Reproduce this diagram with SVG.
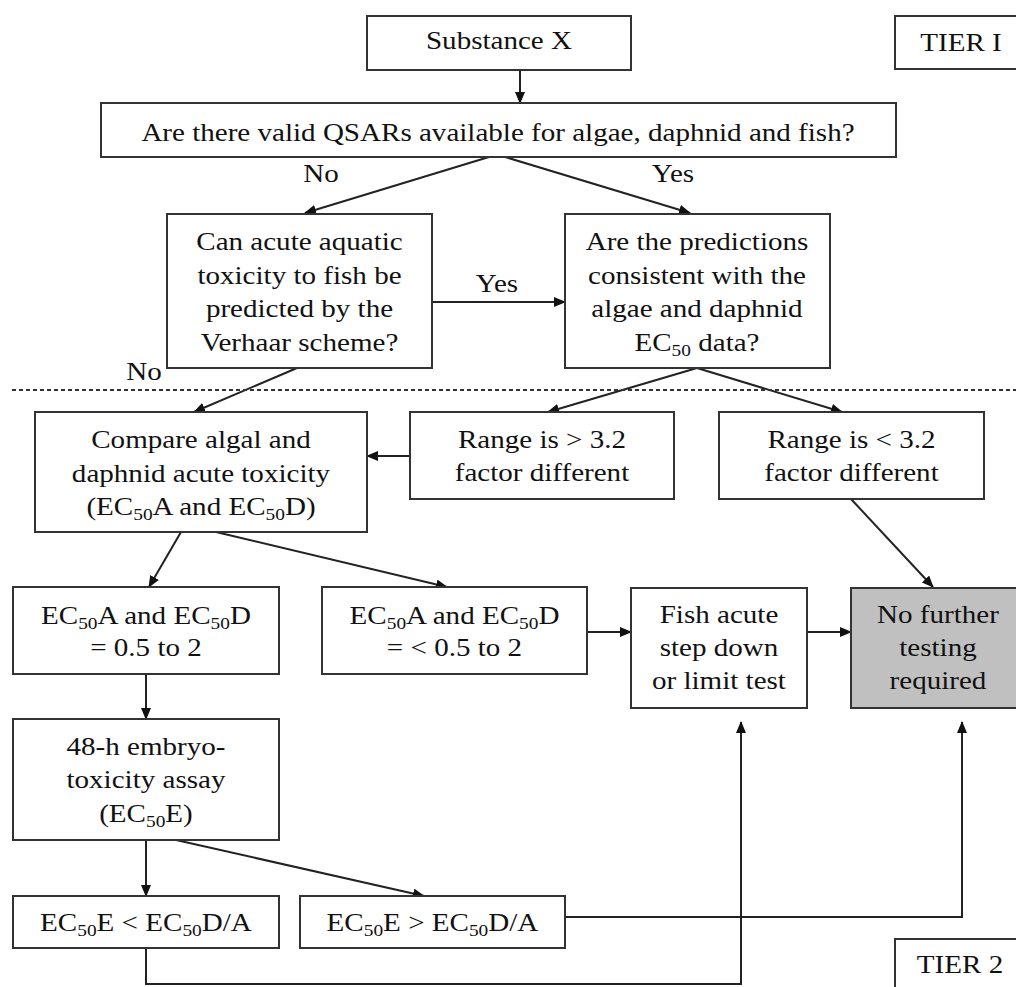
<svg xmlns="http://www.w3.org/2000/svg" width="1016" height="987" viewBox="0 0 1016 987">
<style>
.box{fill:#fff;stroke:#333;stroke-width:2}
.grey{fill:#c0c0c0;stroke:#333;stroke-width:2}
.t{font-family:Liberation Serif, serif;font-size:25.5px;fill:#111;text-anchor:middle;transform-box:fill-box;transform-origin:center;transform:scaleX(1.14)}
.c{fill:none;stroke:#222;stroke-width:2}
.a{marker-end:url(#ah)}
.dash{fill:none;stroke:#333;stroke-width:2;stroke-dasharray:4 3}
</style>
<defs>
<marker id="ah" viewBox="0 0 12 10" refX="11" refY="5" markerWidth="12" markerHeight="10" markerUnits="userSpaceOnUse" orient="auto">
<path d="M0,0 L12,5 L0,10 z" fill="#111"/>
</marker>
</defs>
<rect width="1016" height="987" fill="#fff"/>

<g id="connectors">
<path class="c a" d="M520,70 L520,103"/>
<path class="c a" d="M489,157 L305,213"/>
<path class="c a" d="M505,157 L690,213"/>
<path class="c a" d="M432,302 L565,302"/>
<path class="c a" d="M297,368 L194,412"/>
<path class="c a" d="M697,368 L548,412"/>
<path class="c a" d="M697,368 L842,412"/>
<path class="c a" d="M410,456 L367,456"/>
<path class="c a" d="M851,499 L933,587"/>
<path class="c a" d="M181,532 L149,587"/>
<path class="c a" d="M216,532 L447,587"/>
<path class="c a" d="M587,632 L631,632"/>
<path class="c a" d="M807,632 L851,632"/>
<path class="c a" d="M146,674 L146,719"/>
<path class="c a" d="M146,840 L146,896"/>
<path class="c a" d="M176,840 L424,896"/>
<path class="c a" d="M565,917 L962,917 L962,722"/>
<path class="c a" d="M146,948 L146,984 L741,984 L741,722"/>
<text class="t" x="321" y="182">No</text>
<text class="t" x="673" y="182">Yes</text>
<text class="t" x="497" y="292">Yes</text>
<text class="t" x="144" y="380">No</text>
</g>

<path id="tier-divider" class="dash" d="M12,390 L1016,390"/>

<g id="substance">
<rect class="box" x="367" y="16" width="264" height="54"/>
<text class="t" x="499" y="49">Substance X</text>
</g>

<g id="tier1">
<rect class="box" x="895" y="16" width="140" height="53"/>
<text class="t" x="961" y="51">TIER I</text>
</g>

<g id="qsar">
<rect class="box" x="101" y="103" width="795" height="54"/>
<text class="t" x="498" y="141">Are there valid QSARs available for algae, daphnid and fish?</text>
</g>

<g id="verhaar">
<rect class="box" x="167" y="214" width="265" height="154"/>
<text class="t" x="299.5" y="250">Can acute aquatic</text>
<text class="t" x="299.5" y="284">toxicity to fish be</text>
<text class="t" x="299.5" y="317">predicted by the</text>
<text class="t" x="299.5" y="351">Verhaar scheme?</text>
</g>

<g id="predictions">
<rect class="box" x="565" y="214" width="265" height="154"/>
<text class="t" x="697" y="250">Are the predictions</text>
<text class="t" x="697" y="284">consistent with the</text>
<text class="t" x="697" y="317">algae and daphnid</text>
<text class="t" x="697" y="351">EC<tspan font-size="17" dy="5">50</tspan><tspan dy="-5"> data?</tspan></text>
</g>

<g id="compare">
<rect class="box" x="35" y="412" width="332" height="120"/>
<text class="t" x="201" y="448">Compare algal and</text>
<text class="t" x="201" y="482">daphnid acute toxicity</text>
<text class="t" x="201" y="515">(EC<tspan font-size="17" dy="5">50</tspan><tspan dy="-5">A and EC</tspan><tspan font-size="17" dy="5">50</tspan><tspan dy="-5">D)</tspan></text>
</g>

<g id="range-gt">
<rect class="box" x="410" y="412" width="264" height="87"/>
<text class="t" x="542" y="448">Range is &gt; 3.2</text>
<text class="t" x="542" y="481">factor different</text>
</g>

<g id="range-lt">
<rect class="box" x="719" y="412" width="265" height="87"/>
<text class="t" x="851.5" y="448">Range is &lt; 3.2</text>
<text class="t" x="851.5" y="481">factor different</text>
</g>

<g id="ec-equal">
<rect class="box" x="13" y="587" width="266" height="87"/>
<text class="t" x="146" y="624">EC<tspan font-size="17" dy="5">50</tspan><tspan dy="-5">A and EC</tspan><tspan font-size="17" dy="5">50</tspan><tspan dy="-5">D</tspan></text>
<text class="t" x="146" y="656">= 0.5 to 2</text>
</g>

<g id="ec-less">
<rect class="box" x="322" y="587" width="265" height="87"/>
<text class="t" x="454.5" y="624">EC<tspan font-size="17" dy="5">50</tspan><tspan dy="-5">A and EC</tspan><tspan font-size="17" dy="5">50</tspan><tspan dy="-5">D</tspan></text>
<text class="t" x="454.5" y="656">= &lt; 0.5 to 2</text>
</g>

<g id="fish-acute">
<rect class="box" x="631" y="588" width="176" height="120"/>
<text class="t" x="719" y="623">Fish acute</text>
<text class="t" x="719" y="656">step down</text>
<text class="t" x="719" y="689">or limit test</text>
</g>

<g id="no-further">
<rect class="grey" x="851" y="588" width="180" height="120"/>
<text class="t" x="938" y="623">No further</text>
<text class="t" x="938" y="656">testing</text>
<text class="t" x="938" y="689">required</text>
</g>

<g id="embryo">
<rect class="box" x="13" y="719" width="266" height="121"/>
<text class="t" x="146" y="755">48-h embryo-</text>
<text class="t" x="146" y="788">toxicity assay</text>
<text class="t" x="146" y="822">(EC<tspan font-size="17" dy="5">50</tspan><tspan dy="-5">E)</tspan></text>
</g>

<g id="e-less">
<rect class="box" x="13" y="896" width="266" height="52"/>
<text class="t" x="146" y="931">EC<tspan font-size="17" dy="5">50</tspan><tspan dy="-5">E &lt; EC</tspan><tspan font-size="17" dy="5">50</tspan><tspan dy="-5">D/A</tspan></text>
</g>

<g id="e-greater">
<rect class="box" x="300" y="896" width="265" height="52"/>
<text class="t" x="432.5" y="931">EC<tspan font-size="17" dy="5">50</tspan><tspan dy="-5">E &gt; EC</tspan><tspan font-size="17" dy="5">50</tspan><tspan dy="-5">D/A</tspan></text>
</g>

<g id="tier2">
<rect class="box" x="895" y="939" width="140" height="60"/>
<text class="t" x="960" y="973">TIER 2</text>
</g>
</svg>
